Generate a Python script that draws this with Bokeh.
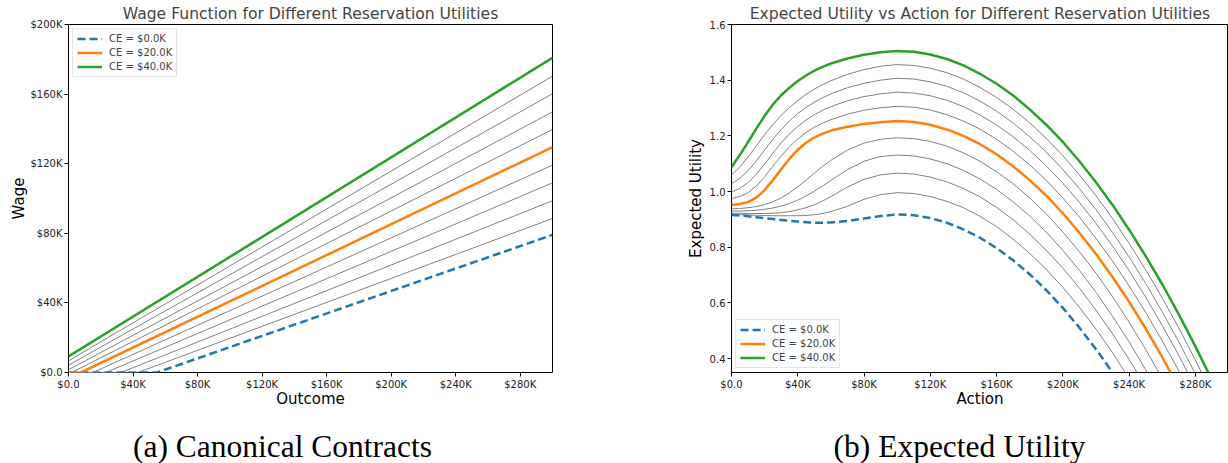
from bokeh.plotting import figure
from bokeh.models import FixedTicker, Legend, LegendItem, Range1d
from bokeh.layouts import row, column
from bokeh.core.properties import value
from bokeh.embed import file_html
from bokeh.resources import INLINE

# ---------------- data ----------------
ce_k = [0, 4, 8, 12, 16, 20, 24, 28, 32, 36, 40]          # reservation CE, $K
highlight = {0: ("#1f77b4", "dashed"), 20: ("#ff7f0e", "solid"), 40: ("#2ca02c", "solid")}

# left panel: linear wage lines w(x) = max(0, a + b x), read at x = 0 and x = 300K  ($K)
wage_at_0 = [-17.7, -14.8, -12.0, -9.1, -6.3, -3.4, -0.9, 1.6, 4.2, 6.7, 9.2]
wage_at_300 = [79.1, 88.5, 98.7, 109.0, 119.2, 129.5, 139.7, 149.8, 160.2, 170.3, 180.9]
outcome_max_k = 300

# right panel: expected utility vs action ($K)
action_k = [0, 5, 10, 15, 20, 25, 30, 35, 40, 45, 50, 55, 60, 70, 80, 90, 100,
            110, 120, 130, 140, 150, 160, 170, 180, 190, 200,
            210, 220, 230, 240, 250, 260, 270, 280, 290, 300]
eu_ce0 = [0.916, 0.914, 0.911, 0.908, 0.904, 0.901, 0.898, 0.895, 0.892, 0.890, 0.888, 0.888,
          0.889, 0.894, 0.903, 0.912, 0.918,
          0.915, 0.905, 0.888, 0.864, 0.834, 0.797, 0.753, 0.703, 0.646, 0.582, 0.511,
          0.434, 0.350, 0.259]
eu_ce4 = [0.918, 0.917, 0.916, 0.915, 0.914, 0.913, 0.913, 0.913, 0.913, 0.914, 0.917, 0.921,
          0.928, 0.947, 0.972, 0.989, 0.996,
          0.993, 0.982, 0.965, 0.942, 0.911, 0.874, 0.829, 0.778, 0.720, 0.656, 0.584,
          0.506, 0.421, 0.329]
eu_ce8 = [0.922, 0.922, 0.921, 0.921, 0.921, 0.922, 0.924, 0.928, 0.934, 0.942, 0.952, 0.966,
          0.982, 1.016, 1.044, 1.060, 1.066,
          1.063, 1.052, 1.035, 1.011, 0.981, 0.943, 0.899, 0.847, 0.789, 0.725, 0.653,
          0.574, 0.489, 0.397, 0.298]
eu_ce12 = [0.930, 0.930, 0.931, 0.933, 0.936, 0.941, 0.948, 0.957, 0.969, 0.984, 1.001, 1.020,
           1.040, 1.079, 1.109, 1.126, 1.131,
           1.128, 1.117, 1.100, 1.076, 1.045, 1.008, 0.963, 0.912, 0.854, 0.789, 0.717,
           0.638, 0.552, 0.460, 0.360, 0.254]
eu_ce16 = [0.938, 0.939, 0.942, 0.946, 0.953, 0.963, 0.977, 0.995, 1.017, 1.041, 1.066, 1.090,
           1.112, 1.149, 1.174, 1.188, 1.193,
           1.190, 1.180, 1.163, 1.139, 1.109, 1.071, 1.028, 0.977, 0.920, 0.855, 0.784,
           0.707, 0.622, 0.531, 0.433, 0.329]
eu_ce20 = [0.952, 0.955, 0.962, 0.978, 1.005, 1.041, 1.080, 1.118, 1.150, 1.175, 1.194, 1.208,
           1.219, 1.233, 1.243, 1.249, 1.253,
           1.250, 1.240, 1.223, 1.200, 1.170, 1.134, 1.091, 1.041, 0.985, 0.922, 0.852,
           0.776, 0.693, 0.604, 0.508, 0.405, 0.296]
eu_ce24 = [0.975, 0.982, 0.996, 1.020, 1.053, 1.091, 1.128, 1.161, 1.189, 1.212, 1.231, 1.246,
           1.258, 1.278, 1.292, 1.301, 1.306,
           1.303, 1.293, 1.276, 1.253, 1.224, 1.188, 1.145, 1.096, 1.040, 0.977, 0.908,
           0.832, 0.750, 0.661, 0.566, 0.464, 0.356, 0.240]
eu_ce28 = [0.998, 1.011, 1.032, 1.062, 1.099, 1.138, 1.175, 1.207, 1.234, 1.257, 1.276, 1.292,
           1.305, 1.326, 1.341, 1.351, 1.357,
           1.354, 1.344, 1.328, 1.305, 1.275, 1.239, 1.197, 1.148, 1.092, 1.030, 0.961,
           0.886, 0.804, 0.716, 0.621, 0.519, 0.411, 0.297]
eu_ce32 = [1.028, 1.047, 1.075, 1.110, 1.149, 1.188, 1.223, 1.254, 1.280, 1.302, 1.321, 1.337,
           1.351, 1.373, 1.389, 1.400, 1.407,
           1.404, 1.394, 1.378, 1.355, 1.325, 1.289, 1.246, 1.197, 1.142, 1.079, 1.011,
           0.935, 0.853, 0.765, 0.670, 0.568, 0.460, 0.345]
eu_ce36 = [1.060, 1.088, 1.124, 1.164, 1.204, 1.241, 1.274, 1.302, 1.327, 1.349, 1.368, 1.384,
           1.398, 1.421, 1.438, 1.450, 1.456,
           1.453, 1.443, 1.427, 1.404, 1.374, 1.338, 1.296, 1.247, 1.191, 1.129, 1.060,
           0.985, 0.903, 0.814, 0.719, 0.618, 0.510, 0.395, 0.274]
eu_ce40 = [1.087, 1.131, 1.178, 1.226, 1.272, 1.313, 1.346, 1.373, 1.397, 1.417, 1.434, 1.448,
           1.460, 1.478, 1.491, 1.500, 1.505,
           1.502, 1.492, 1.476, 1.453, 1.423, 1.387, 1.345, 1.295, 1.240, 1.178, 1.109,
           1.033, 0.952, 0.863, 0.768, 0.667, 0.559, 0.444, 0.323]
eu_series = [eu_ce0, eu_ce4, eu_ce8, eu_ce12, eu_ce16, eu_ce20,
             eu_ce24, eu_ce28, eu_ce32, eu_ce36, eu_ce40]

x_ticks = [0, 40, 80, 120, 160, 200, 240, 280]
x_tick_labels = ["$0.0", "$40K", "$80K", "$120K", "$160K", "$200K", "$240K", "$280K"]
wage_ticks = [0, 40, 80, 120, 160, 200]
wage_tick_labels = ["$0.0", "$40K", "$80K", "$120K", "$160K", "$200K"]
eu_ticks = [0.4, 0.6, 0.8, 1.0, 1.2, 1.4, 1.6]
eu_tick_labels = ["0.4", "0.6", "0.8", "1.0", "1.2", "1.4", "1.6"]
captions = ["(a) Canonical Contracts", "(b) Expected Utility"]

FONT = "DejaVu Sans"
SERIF = "Liberation Serif"


def style(p):
    p.outline_line_color = "black"
    p.outline_line_width = 1
    p.xgrid.grid_line_color = None
    p.ygrid.grid_line_color = None
    p.background_fill_color = "white"
    p.border_fill_color = "white"
    for ax in (p.xaxis[0], p.yaxis[0]):
        ax.axis_line_color = None
        ax.major_tick_in = 0
        ax.major_tick_out = 4
        ax.major_tick_line_color = "black"
        ax.minor_tick_line_color = None
        ax.major_label_text_font = FONT
        ax.major_label_text_font_size = "10px"
        ax.major_label_text_color = "#222222"
        ax.major_label_standoff = 2
        ax.axis_label_text_font = FONT
        ax.axis_label_text_font_size = "15px"
        ax.axis_label_text_font_style = "normal"
        ax.axis_label_text_color = "black"
    p.title.text_font = FONT
    p.title.text_font_size = "15.6px"
    p.title.text_font_style = "normal"
    p.title.align = "center"
    p.title.standoff = 4


def style_legend(lg, loc):
    lg.location = loc
    lg.label_text_font = FONT
    lg.label_text_font_size = "10px"
    lg.glyph_width = 25
    lg.glyph_height = 11
    lg.label_height = 11
    lg.label_standoff = 7
    lg.spacing = 3
    lg.padding = 4
    lg.margin = 4
    lg.border_line_color = "#cccccc"
    lg.border_line_width = 1
    lg.background_fill_alpha = 0.8


def caption_fig(width, text, center_x):
    c = figure(width=width, height=53, output_backend="svg", toolbar_location=None,
               x_range=Range1d(0, width), y_range=Range1d(0, 53),
               x_axis_type=None, y_axis_type=None,
               min_border_left=0, min_border_right=0, min_border_top=0, min_border_bottom=0)
    c.outline_line_color = None
    c.xgrid.grid_line_color = None
    c.ygrid.grid_line_color = None
    c.text(x=[center_x], y=[17], text=[text], text_font=value(SERIF),
           text_font_size=value("31.5px"), text_align="center", text_baseline="alphabetic",
           text_color="black")
    return c


# ---------------- left: wage functions ----------------
p1 = figure(width=620, height=410, output_backend="svg", toolbar_location=None,
            x_range=Range1d(0, 300), y_range=Range1d(0, 200),
            min_border_left=68, min_border_right=68, min_border_top=24, min_border_bottom=38,
            title="Wage Function for Different Reservation Utilities")
style(p1)
p1.xaxis.axis_label = "Outcome"
p1.yaxis.axis_label = "Wage"
p1.xaxis.axis_label_standoff = -3
p1.yaxis.axis_label_standoff = -1
p1.xaxis.ticker = FixedTicker(ticks=x_ticks)
p1.xaxis.major_label_overrides = dict(zip(x_ticks, x_tick_labels))
p1.yaxis.ticker = FixedTicker(ticks=wage_ticks)
p1.yaxis.major_label_overrides = dict(zip(wage_ticks, wage_tick_labels))

items1 = []
wage_lines = []
for ce, a0, a300 in zip(ce_k, wage_at_0, wage_at_300):
    slope = (a300 - a0) / outcome_max_k
    if a0 < 0:
        xs = [0, -a0 / slope, outcome_max_k]
        ys = [0, 0, a300]
    else:
        xs = [0, outcome_max_k]
        ys = [a0, a300]
    wage_lines.append((ce, xs, ys))
for ce, xs, ys in wage_lines:
    if ce not in highlight:
        p1.line(xs, ys, line_color="gray", line_width=1)
for ce, xs, ys in wage_lines:
    if ce in highlight:
        col, dash = highlight[ce]
        r = p1.line(xs, ys, line_color=col, line_width=2.5,
                    line_dash="8 4" if dash == "dashed" else "solid")
        items1.append(LegendItem(label=f"CE = ${ce:.1f}K", renderers=[r]))
lg1 = Legend(items=items1)
style_legend(lg1, "top_left")
p1.add_layout(lg1, "center")

# ---------------- right: expected utility ----------------
p2 = figure(width=608, height=410, output_backend="svg", toolbar_location=None,
            x_range=Range1d(0, 300), y_range=Range1d(0.35, 1.6),
            min_border_left=111, min_border_right=0, min_border_top=24, min_border_bottom=38,
            title="Expected Utility vs Action for Different Reservation Utilities")
style(p2)
p2.xaxis.axis_label = "Action"
p2.yaxis.axis_label = "Expected Utility"
p2.xaxis.axis_label_standoff = -3
p2.yaxis.axis_label_standoff = 2
p2.xaxis.ticker = FixedTicker(ticks=x_ticks)
p2.xaxis.major_label_overrides = dict(zip(x_ticks, x_tick_labels))
p2.yaxis.ticker = FixedTicker(ticks=eu_ticks)
p2.yaxis.major_label_overrides = dict(zip(eu_ticks, eu_tick_labels))

items2 = []
for ce, vals in zip(ce_k, eu_series):
    if ce not in highlight:
        p2.line(action_k[:len(vals)], vals, line_color="gray", line_width=1,
                line_join="round")
for ce, vals in zip(ce_k, eu_series):
    if ce in highlight:
        col, dash = highlight[ce]
        r = p2.line(action_k[:len(vals)], vals, line_color=col, line_width=2.5,
                    line_join="round",
                    line_dash="8 4" if dash == "dashed" else "solid")
        items2.append(LegendItem(label=f"CE = ${ce:.1f}K", renderers=[r]))
lg2 = Legend(items=items2)
style_legend(lg2, "bottom_left")
p2.add_layout(lg2, "center")

c1 = caption_fig(620, captions[0], 282)
c2 = caption_fig(608, captions[1], 339)

layout = column(row(p1, p2, spacing=0), row(c1, c2, spacing=0), spacing=0)
open("out.html", "w").write(file_html(layout, INLINE))
